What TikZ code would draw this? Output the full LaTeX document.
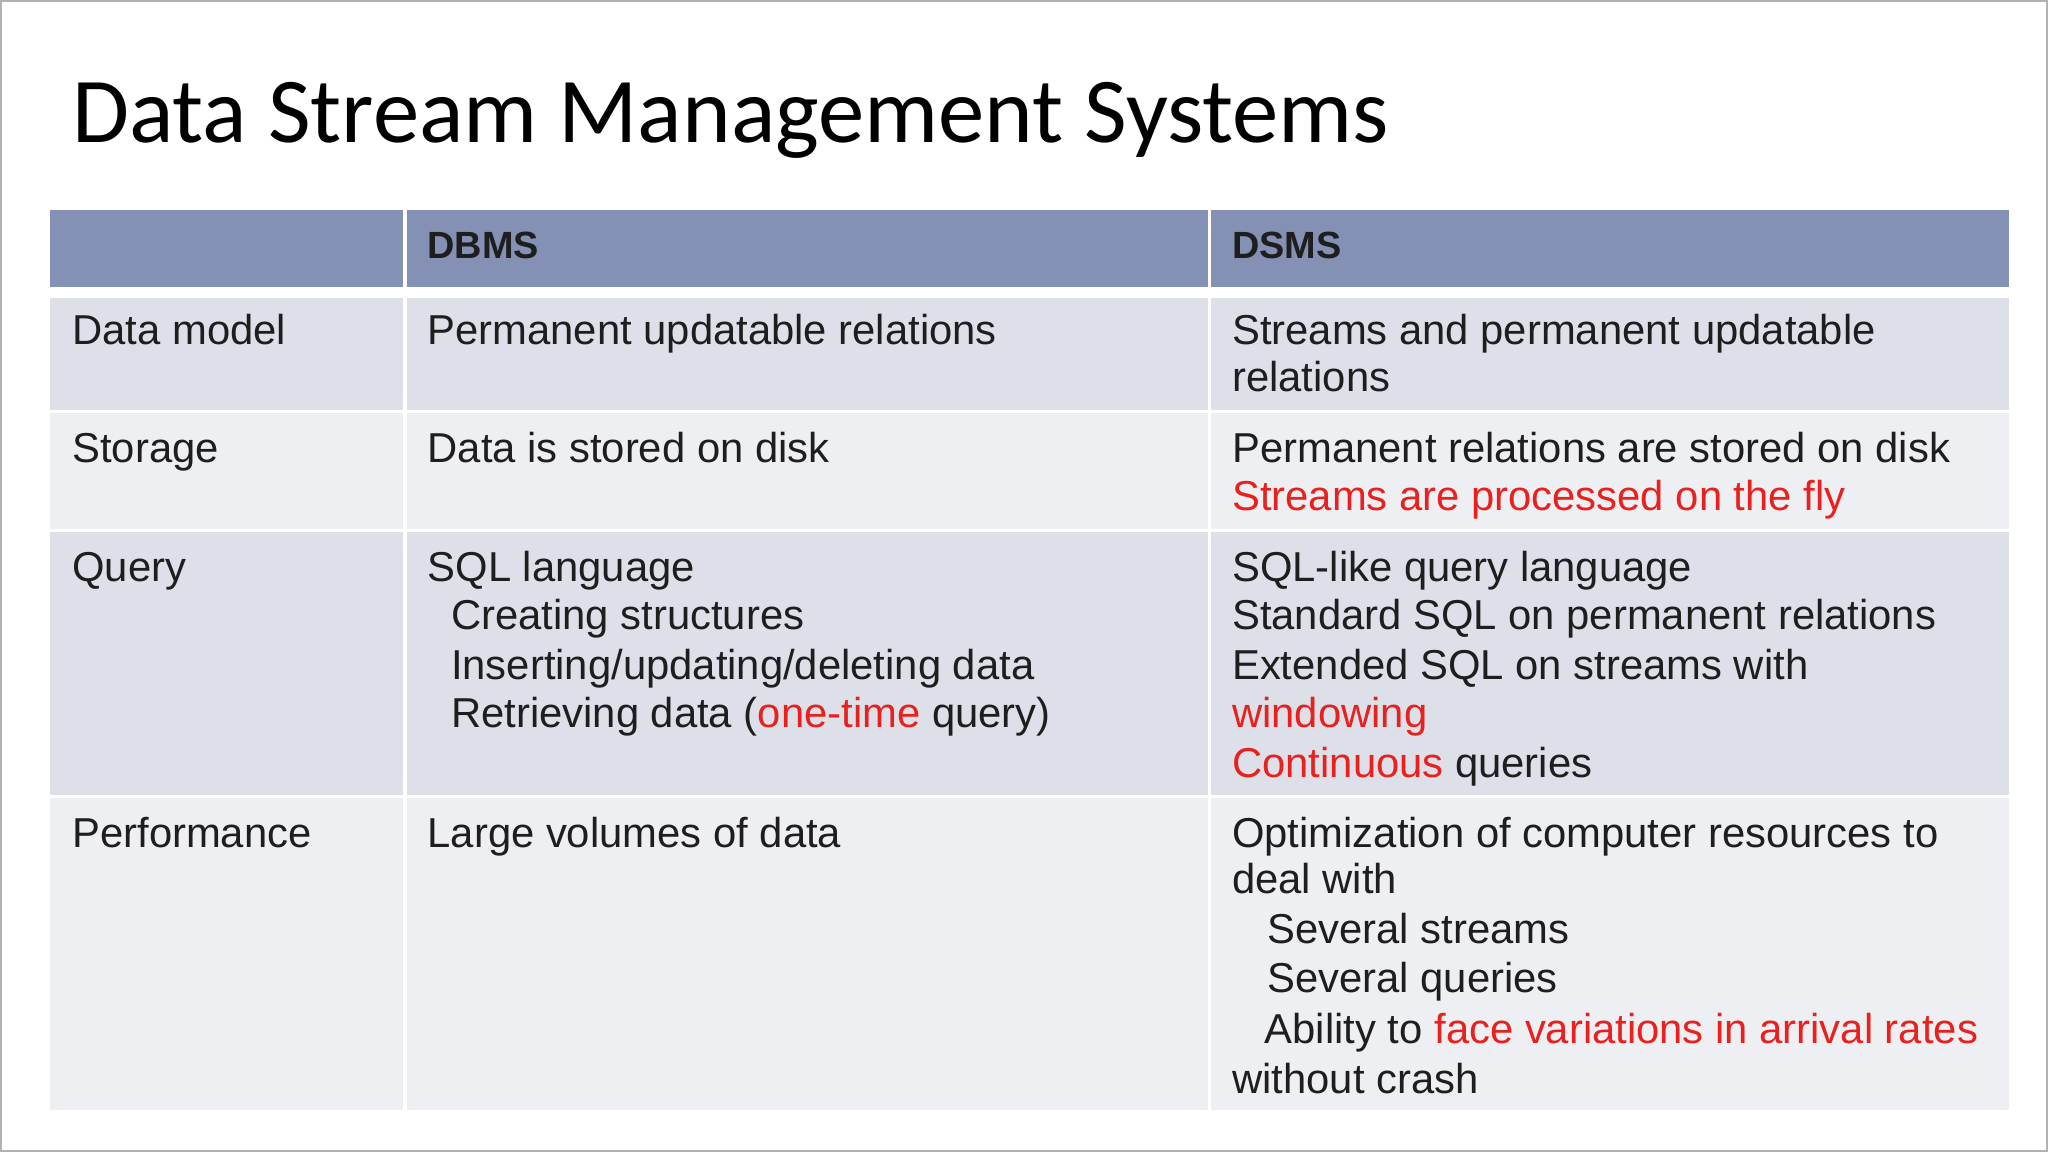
\documentclass[tikz,border=0pt]{standalone}
\usepackage{fontspec}
\setmainfont{Liberation Sans}
\newfontfamily\titlefont{Carlito}
\definecolor{hdr}{HTML}{8490B4}
\definecolor{rowa}{HTML}{DDE0E8}
\definecolor{rowb}{HTML}{EEEFF3}
\definecolor{rd}{HTML}{E8201E}
\definecolor{tx}{HTML}{1E1E1E}
\begin{document}
\begin{tikzpicture}[x=0.5pt,y=-0.5pt,
  cell/.style={anchor=west,inner sep=0pt,yshift=-3pt,text=tx,text height=0.72em,text depth=0.22em,font=\fontsize{16}{19}\selectfont},
  hcell/.style={anchor=west,inner sep=0pt,yshift=-2.5pt,text=tx,text height=0.72em,text depth=0.22em,font=\fontsize{14.5}{17}\selectfont\bfseries}]
\useasboundingbox (0,0) rectangle (1568,882);
\fill[white] (0,0) rectangle (1568,882);
\draw[black!30,line width=1pt] (0.5,0.5) rectangle (1567.5,881.5);
\node[anchor=west,inner sep=0pt,yshift=-2pt,font=\fontsize{35.5}{42}\selectfont\titlefont] (title) at (55,88) {Data Stream Management Systems};
% rows
\fill[hdr] (38,161) rectangle (1538,220);
\fill[rowa] (38,228) rectangle (1538,314);
\fill[rowb] (38,316) rectangle (1538,405);
\fill[rowa] (38,407) rectangle (1538,609);
\fill[rowb] (38,611) rectangle (1538,850);
\draw[white,line width=1.5pt] (310,161) -- (310,850) (926,161) -- (926,850);
% header
\node[hcell] (h1) at (327,188) {DBMS};
\node[hcell] (h2) at (943,188) {DSMS};
% row 1
\node[cell] (a1) at (55,253) {Data model};
\node[cell] (a2) at (327,253) {Permanent updatable relations};
\node[cell] (a3) at (943,253) {Streams and permanent updatable};
\node[cell] (a4) at (943,289) {relations};
% row 2
\node[cell] (b1) at (55,343) {Storage};
\node[cell] (b2) at (327,343) {Data is stored on disk};
\node[cell] (b3) at (943,343) {Permanent relations are stored on disk};
\node[cell,text=rd] (b4) at (943,380) {Streams are processed on the fly};
% row 3
\node[cell] (c1) at (55,434) {Query};
\node[cell] (c2) at (327,434) {SQL language};
\node[cell] (c3) at (345,471) {Creating structures};
\node[cell] (c4) at (345,509) {Inserting/updating/deleting data};
\node[cell] (c5) at (345,546) {Retrieving data (\textcolor{rd}{one-time} query)};
\node[cell] (c6) at (943,434) {SQL-like query language};
\node[cell] (c7) at (943,471) {Standard SQL on permanent relations};
\node[cell] (c8) at (943,509) {Extended SQL on streams with};
\node[cell,text=rd] (c9) at (943,546) {windowing};
\node[cell] (c10) at (943,584) {\textcolor{rd}{Continuous} queries};
% row 4
\node[cell] (d1) at (55,638) {Performance};
\node[cell] (d2) at (327,638) {Large volumes of data};
\node[cell] (d3) at (943,638) {Optimization of computer resources to};
\node[cell] (d4) at (943,673) {deal with};
\node[cell] (d5) at (970,711) {Several streams};
\node[cell] (d6) at (970,749) {Several queries};
\node[cell] (d7) at (968,788) {Ability to \textcolor{rd}{face variations in arrival rates}};
\node[cell] (d8) at (943,826) {without crash};
\end{tikzpicture}
\end{document}
